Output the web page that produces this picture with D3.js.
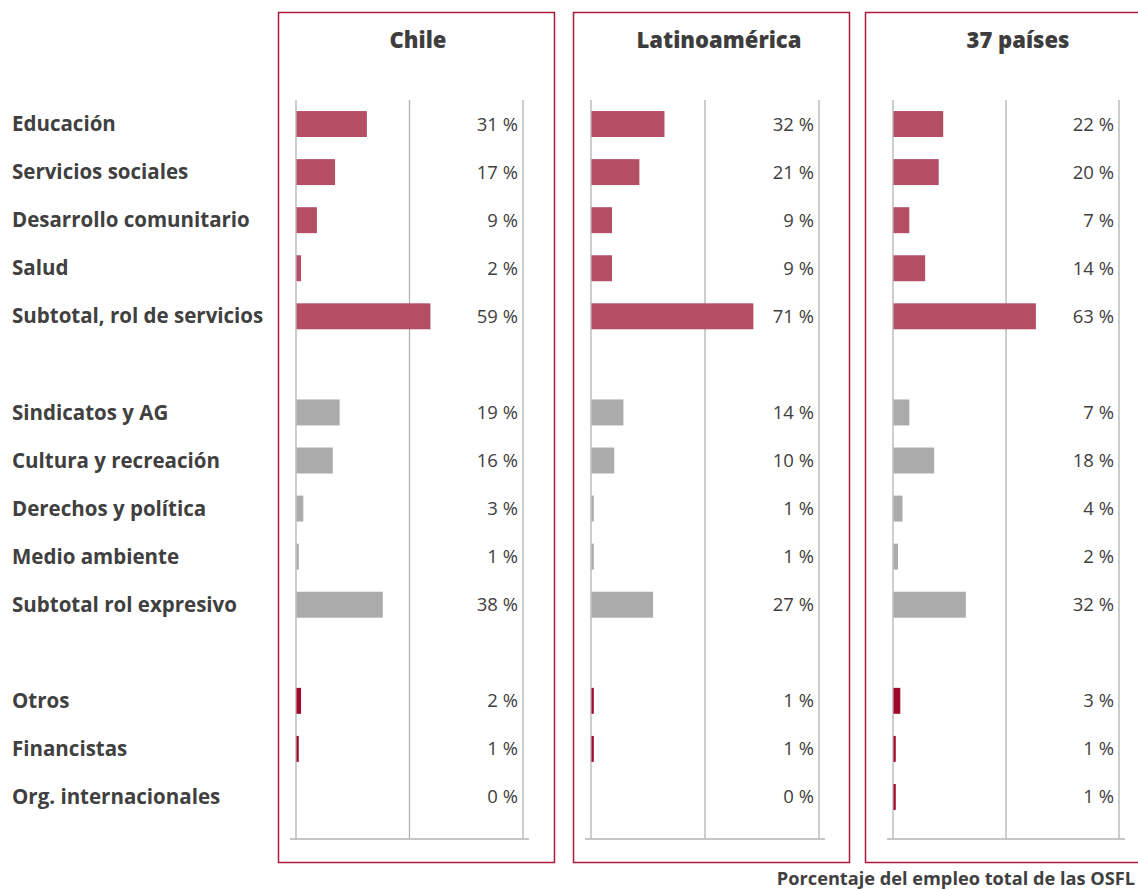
<!DOCTYPE html>
<html>
<head>
<meta charset="utf-8">
<script src="https://cdn.jsdelivr.net/npm/d3@7"></script>
<style>
  body { margin: 0; background: #fff; }
  text { font-family: "Open Sans", "Noto Sans", sans-serif; fill: #404040; }
</style>
</head>
<body>
<script>
// Data
let categories = [
  'Educación', 'Servicios sociales', 'Desarrollo comunitario', 'Salud',
  'Subtotal, rol de servicios', '',
  'Sindicatos y AG', 'Cultura y recreación', 'Derechos y política',
  'Medio ambiente', 'Subtotal rol expresivo', '',
  'Otros', 'Financistas', 'Org. internacionales'
];
// group of each row: service, expressive, other (null = empty row)
let groups = ['s', 's', 's', 's', 's', null, 'e', 'e', 'e', 'e', 'e', null, 'o', 'o', 'o'];

let chile  = [31, 17, 9, 2, 59, null, 19, 16, 3, 1, 38, null, 2, 1, 0];
let latam  = [32, 21, 9, 9, 71, null, 14, 10, 1, 1, 27, null, 1, 1, 0];
let paises = [22, 20, 7, 14, 63, null, 7, 18, 4, 2, 32, null, 3, 1, 1];

let panelTitles = ['Chile', 'Latinoamérica', '37 países'];
let xTicks = [0, 50, 100];
let footnote = 'Porcentaje del empleo total de las OSFL';

// Layout
let width = 1138, height = 890;
let panels = [
  { title: panelTitles[0], values: chile,  box: [278, 554], axis: [296, 523], titleX: 418 },
  { title: panelTitles[1], values: latam,  box: [573, 849], axis: [591, 819], titleX: 719 },
  { title: panelTitles[2], values: paises, box: [865, 1141], axis: [893, 1119], titleX: 1018 }
];
let colors = { s: '#b34e64', e: '#ababab', o: '#a0072a' };

let svg = d3.select('body')
  .append('svg')
  .attr('width', width)
  .attr('height', height);

let rows = d3.range(categories.length);

let yScale = d3.scaleBand()
  .domain(rows)
  .range([100, 821])
  .paddingInner(0.46)
  .paddingOuter(0.23);

let axisBottomY = 839;

// Category labels
svg.append('g')
  .selectAll('text')
  .data(rows.filter(i => categories[i]))
  .enter()
  .append('text')
  .attr('x', 12)
  .attr('y', i => yScale(i) + yScale.bandwidth() / 2)
  .attr('dy', '0.35em')
  .style('font-size', '20.5px')
  .style('font-weight', 'bold')
  .text(i => categories[i]);

panels.forEach(p => {
  let g = svg.append('g');

  // Panel border
  g.append('rect')
    .attr('x', p.box[0] + 0.5)
    .attr('y', 12.5)
    .attr('width', p.box[1] - p.box[0])
    .attr('height', 850)
    .attr('fill', 'none')
    .attr('stroke', '#a8193d')
    .attr('stroke-width', 1.5);

  // Title
  g.append('text')
    .attr('x', p.titleX)
    .attr('y', 48)
    .attr('text-anchor', 'middle')
    .style('font-size', '22px')
    .style('font-weight', 800)
    .style('fill', '#3d3d3d')
    .text(p.title);

  let xScale = d3.scaleLinear()
    .domain([0, 100])
    .range(p.axis);

  // Vertical gridlines
  g.append('g')
    .selectAll('line')
    .data(xTicks)
    .enter()
    .append('line')
    .attr('x1', d => xScale(d))
    .attr('x2', d => xScale(d))
    .attr('y1', 100)
    .attr('y2', axisBottomY)
    .attr('stroke', '#b3b3b3')
    .attr('stroke-width', 1.3);

  // Bottom axis line
  g.append('line')
    .attr('x1', xScale(0) - 6)
    .attr('x2', xScale(100) + 6)
    .attr('y1', axisBottomY)
    .attr('y2', axisBottomY)
    .attr('stroke', '#b3b3b3')
    .attr('stroke-width', 1.5);

  let items = rows.filter(i => p.values[i] !== null);

  // Bars
  g.append('g')
    .selectAll('rect')
    .data(items)
    .enter()
    .append('rect')
    .attr('x', xScale(0) + 0.5)
    .attr('y', i => yScale(i))
    .attr('width', i => Math.max(0, xScale(p.values[i]) - xScale(0)))
    .attr('height', yScale.bandwidth())
    .style('fill', i => colors[groups[i]]);

  // Value labels
  g.append('g')
    .selectAll('text')
    .data(items)
    .enter()
    .append('text')
    .attr('x', xScale(100) - 5)
    .attr('y', i => yScale(i) + yScale.bandwidth() / 2)
    .attr('dy', '0.35em')
    .attr('text-anchor', 'end')
    .style('font-size', '18.5px')
    .text(i => p.values[i] + ' %');
});

// Footnote
svg.append('text')
  .attr('x', 1135)
  .attr('y', 885)
  .attr('text-anchor', 'end')
  .style('font-size', '18.2px')
  .style('font-weight', 'bold')
  .text(footnote);
</script>
</body>
</html>
